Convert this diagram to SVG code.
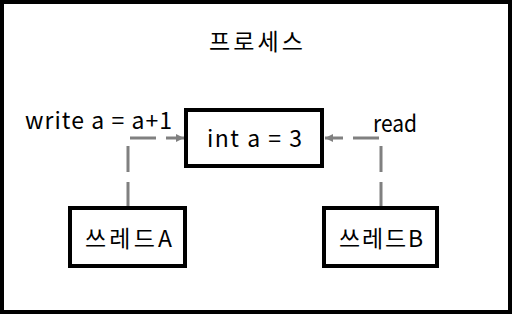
<svg xmlns="http://www.w3.org/2000/svg" width="512" height="314" viewBox="0 0 512 314">
<style>
.box{fill:#fff;stroke:#000;stroke-width:4}
.t{font-family:"Noto Sans CJK KR","Noto Sans",sans-serif;font-size:23px;fill:#000}
.c{fill:none;stroke:#808080;stroke-width:3;stroke-dasharray:26 10}
</style>
<defs>
<marker id="ah" markerWidth="8" markerHeight="8" refX="8" refY="4" orient="auto" markerUnits="userSpaceOnUse">
<path d="M0,0 L8,4 L0,8 Z" fill="#808080"/>
</marker>
</defs>
<rect x="2" y="2" width="508" height="310" fill="#fff" stroke="#000" stroke-width="4"/>
<text class="t" x="209" y="50" textLength="94" lengthAdjust="spacing">프로세스</text>
<g id="connectors">
<path class="c" d="M128,208 V138 H184" marker-end="url(#ah)"/>
<path class="c" d="M381,208 V138 H325" marker-end="url(#ah)"/>
<text class="t" x="25" y="129" textLength="147" lengthAdjust="spacing">write a = a+1</text>
<text class="t" x="373" y="132" textLength="44" lengthAdjust="spacingAndGlyphs">read</text>
</g>
<g id="var">
<rect class="box" x="186" y="110" width="136" height="56"/>
<text class="t" x="207" y="147" textLength="95" lengthAdjust="spacing">int a = 3</text>
</g>
<g id="threadA">
<rect class="box" x="70" y="208" width="115" height="58"/>
<text class="t" x="85" y="247" textLength="87" lengthAdjust="spacing">쓰레드A</text>
</g>
<g id="threadB">
<rect class="box" x="324" y="208" width="113" height="58"/>
<text class="t" x="339" y="247" textLength="84" lengthAdjust="spacing">쓰레드B</text>
</g>
</svg>
